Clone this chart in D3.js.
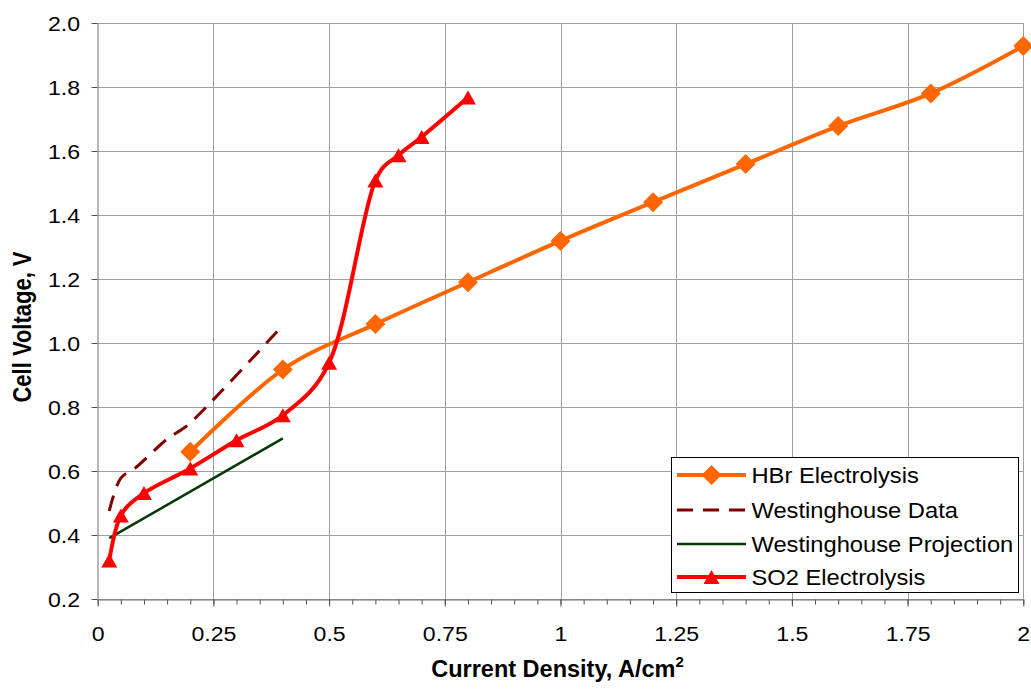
<!DOCTYPE html>
<html>
<head>
<meta charset="utf-8">
<script src="https://cdn.jsdelivr.net/npm/d3@7"></script>
<style>
  html, body { margin: 0; padding: 0; background: #fff; }
  svg { display: block; font-family: "Liberation Sans", Arial, sans-serif; }
</style>
</head>
<body>
<svg id="chart" width="1031" height="690"></svg>
<script>
// ---- data ----
const xTicks = [0, 0.25, 0.5, 0.75, 1, 1.25, 1.5, 1.75, 2];
const xTickLabels = ["0", "0.25", "0.5", "0.75", "1", "1.25", "1.5", "1.75", "2"];
const yTicks = [0.2, 0.4, 0.6, 0.8, 1.0, 1.2, 1.4, 1.6, 1.8, 2.0];
const yTickLabels = ["0.2", "0.4", "0.6", "0.8", "1.0", "1.2", "1.4", "1.6", "1.8", "2.0"];

const hbrX = [0.2, 0.4, 0.6, 0.8, 1.0, 1.2, 1.4, 1.6, 1.8, 2.0];
const hbrY = [0.66, 0.917, 1.059, 1.19, 1.319, 1.44, 1.559, 1.678, 1.78, 1.928];

const wdX = [0.025, 0.05, 0.08, 0.15, 0.18, 0.2, 0.4];
const wdY = [0.475, 0.578, 0.608, 0.70, 0.728, 0.75, 1.055];

const wpX = [0.025, 0.4];
const wpY = [0.39, 0.702];

const so2X = [0.025, 0.05, 0.1, 0.2, 0.3, 0.4, 0.5, 0.6, 0.65, 0.7, 0.8];
const so2Y = [0.32, 0.461, 0.531, 0.608, 0.696, 0.774, 0.938, 1.508, 1.587, 1.644, 1.767];

const legendNames = ["HBr Electrolysis", "Westinghouse Data", "Westinghouse Projection", "SO2 Electrolysis"];

// ---- layout ----
const svg = d3.select("#chart");
const pLeft = 97.7, pRight = 1023.3, pTop = 23, pBottom = 599;
const x = d3.scaleLinear().domain([0, 2]).range([pLeft, pRight]);
const y = d3.scaleLinear().domain([0.2, 2.0]).range([pBottom, pTop]);
const FONT = '"Liberation Sans", Arial, sans-serif';

const gridColor = "#a0a0a0";
// gridlines
svg.append("g").selectAll("line").data(yTicks).join("line")
  .attr("x1", pLeft).attr("x2", pRight)
  .attr("y1", d => Math.round(y(d)) + 0.5).attr("y2", d => Math.round(y(d)) + 0.5)
  .attr("stroke", gridColor).attr("stroke-width", 1);
svg.append("g").selectAll("line").data(xTicks.slice(1)).join("line")
  .attr("y1", pTop).attr("y2", pBottom)
  .attr("x1", d => Math.round(x(d)) + 0.5).attr("x2", d => Math.round(x(d)) + 0.5)
  .attr("stroke", gridColor).attr("stroke-width", 1);

// axes
const minorX = d3.range(0, 41).map(i => i * 0.05);
const xMinor = svg.append("g").attr("transform", `translate(0,${Math.round(pBottom)+0.5})`)
  .call(d3.axisBottom(x).tickValues(minorX).tickSize(5).tickFormat(""));
xMinor.select(".domain").remove();
const xAxis = svg.append("g").attr("transform", `translate(0,${Math.round(pBottom)+0.5})`)
  .call(d3.axisBottom(x).tickValues(xTicks).tickSize(7).tickSizeOuter(0)
    .tickFormat((d, i) => xTickLabels[i]));
xAxis.selectAll("text").attr("font-size", 21).attr("fill", "#000").attr("dy", 0).attr("y", 0)
  .attr("transform", "translate(0,41.5) scale(1.1,1)")
  .style("font-family", FONT);

const yAxis = svg.append("g").attr("transform", `translate(${Math.round(pLeft)-0.5},0)`)
  .call(d3.axisLeft(y).tickValues(yTicks).tickSize(6).tickSizeOuter(0)
    .tickFormat((d, i) => yTickLabels[i]));
yAxis.selectAll("text").attr("font-size", 21).attr("fill", "#000").attr("x", 0).attr("dy", "0.36em")
  .attr("transform", "translate(-17.5,0) scale(1.1,1)")
  .style("font-family", FONT);

[xAxis, yAxis, xMinor].forEach(g => {
  g.selectAll(".domain").attr("stroke", "#707070");
  g.selectAll(".tick line").attr("stroke", "#505050");
});

// axis titles
const xt = svg.append("text").attr("x", (pLeft + pRight) / 2 - 3).attr("y", 677)
  .attr("text-anchor", "middle").attr("font-size", 23.5).attr("font-weight", "bold");
xt.append("tspan").text("Current Density, A/cm");
xt.append("tspan").text("2").attr("font-size", 15).attr("dy", -10);

svg.append("text").attr("transform", "translate(31,327) scale(1.15,1) rotate(-90)")
  .attr("text-anchor", "middle").attr("font-size", 22).attr("font-weight", "bold")
  .text("Cell Voltage, V");

// series
const plot = svg.append("g");
const smooth = d3.line().x(d => x(d[0])).y(d => y(d[1])).curve(d3.curveCatmullRom.alpha(0));
const smoothS = d3.line().x(d => x(d[0])).y(d => y(d[1])).curve(d3.curveCatmullRom.alpha(0.3));
const smoothC = d3.line().x(d => x(d[0])).y(d => y(d[1])).curve(d3.curveCatmullRom.alpha(0.5));
const zip = (a, b) => a.map((v, i) => [v, b[i]]);

const hbr = zip(hbrX, hbrY), wd = zip(wdX, wdY), wp = zip(wpX, wpY), so2 = zip(so2X, so2Y);

plot.append("path").datum(wp).attr("d", d3.line().x(d => x(d[0])).y(d => y(d[1])))
  .attr("fill", "none").attr("stroke", "#063806").attr("stroke-width", 2.5);
plot.append("path").datum(wd).attr("d", smoothC)
  .attr("fill", "none").attr("stroke", "#800000").attr("stroke-width", 3)
  .attr("stroke-dasharray", "16,10");
plot.append("path").datum(hbr).attr("d", smooth)
  .attr("fill", "none").attr("stroke", "#FF6600").attr("stroke-width", 4);
plot.append("path").datum(so2).attr("d", smoothS)
  .attr("fill", "none").attr("stroke", "#FF0000").attr("stroke-width", 4);

const diamond = s => `M0,${-s}L${s},0L0,${s}L${-s},0Z`;
const tri = (w, h) => `M0,${-h/2}L${w/2},${h/2}L${-w/2},${h/2}Z`;

plot.append("g").selectAll("path").data(hbr).join("path")
  .attr("transform", d => `translate(${x(d[0])},${y(d[1])})`)
  .attr("d", diamond(10)).attr("fill", "#FF6600");
plot.append("g").selectAll("path").data(so2).join("path")
  .attr("transform", d => `translate(${x(d[0])},${y(d[1])})`)
  .attr("d", tri(16, 14)).attr("fill", "#FF0000");

// legend
const lg = svg.append("g");
lg.append("rect").attr("x", 671.5).attr("y", 457.5).attr("width", 347).attr("height", 135)
  .attr("fill", "#fff").attr("stroke", "#000").attr("stroke-width", 1);
const ly = [475, 510, 544, 577];
const lStyles = [
  {c: "#FF6600", w: 4, dash: null, m: "d"},
  {c: "#800000", w: 3, dash: "16,10", m: null},
  {c: "#063806", w: 2.5, dash: null, m: null},
  {c: "#FF0000", w: 4, dash: null, m: "t"}
];
legendNames.forEach((name, i) => {
  const s = lStyles[i];
  lg.append("line").attr("x1", 677).attr("x2", 746).attr("y1", ly[i]).attr("y2", ly[i])
    .attr("stroke", s.c).attr("stroke-width", s.w).attr("stroke-dasharray", s.dash);
  if (s.m === "d") lg.append("path").attr("transform", `translate(711.5,${ly[i]})`).attr("d", diamond(10)).attr("fill", s.c);
  if (s.m === "t") lg.append("path").attr("transform", `translate(711.5,${ly[i]})`).attr("d", tri(16, 14)).attr("fill", s.c);
  lg.append("text").attr("transform", `translate(751.5,${ly[i]}) scale(1.04,1)`).attr("dy", "0.36em")
    .attr("font-size", 22.8).text(name);
});
</script>
</body>
</html>
